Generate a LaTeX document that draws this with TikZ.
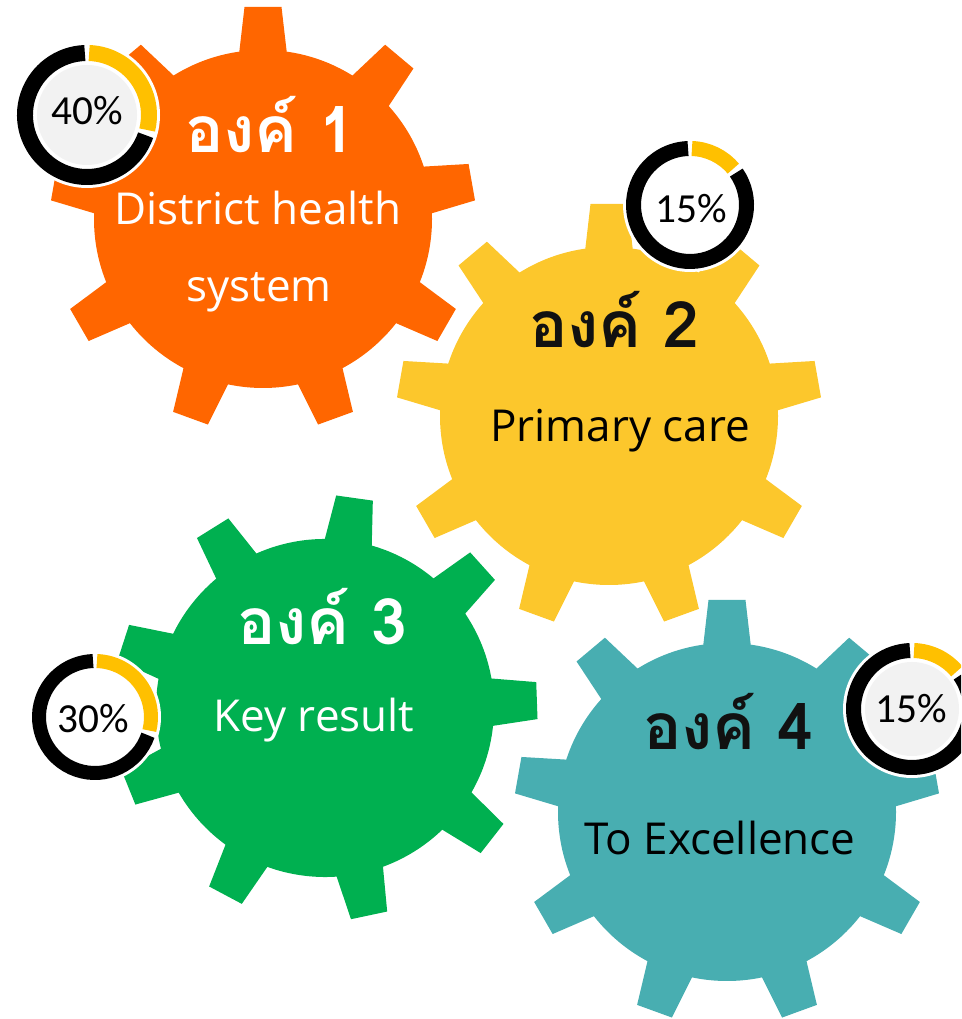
\documentclass[tikz,border=0pt]{standalone}
\usepackage{fontspec}
\setmainfont{Open Sans}
\newfontfamily\thaifont[Script=Thai]{Loma}
\newfontfamily\pctfont{Carlito}
\definecolor{gOrange}{RGB}{255,102,0}
\definecolor{gYellow}{RGB}{252,199,44}
\definecolor{gGreen}{RGB}{0,176,80}
\definecolor{gTeal}{RGB}{72,174,177}
\definecolor{ringYellow}{RGB}{255,192,0}
\definecolor{discGrey}{RGB}{242,242,242}
\definecolor{titleBlack}{RGB}{17,17,17}
\newcommand\drawgear[4]{%
  \begin{scope}[shift={(#1,#2)},rotate=#3]
    \fill[#4] (0,0) circle (169);
    \foreach \k in {0,...,8}{%
      \fill[#4,rotate=\k*40] (-25.7,150) -- (-18.5,212) -- (18.5,212) -- (25.7,150) -- cycle;}
  \end{scope}}
\newcommand\drawdonut[7]{%
  \begin{scope}[shift={(#1,#2)}]
    \fill[white] (0,0) circle ({#3+#4/2+3});
    \fill[#7] (0,0) circle ({#3-#4/2-4});
    \draw[ringYellow,line width={#4*0.75pt}] (88:#3) arc[start angle=88,end angle=#5,radius=#3];
    \draw[black,line width={#4*0.75pt}] (#6:#3) arc[start angle=#6,end angle=-268,radius=#3];
  \end{scope}}
\tikzset{
  title/.style={font=\thaifont\bfseries\fontsize{48}{52}\selectfont, anchor=base, inner sep=0pt},
  sub/.style={font=\fontsize{33}{36}\selectfont, anchor=base, inner sep=0pt},
  pct/.style={font=\pctfont\fontsize{31}{34}\selectfont, anchor=base, inner sep=0pt, text=black}
}
\begin{document}
\begin{tikzpicture}[x=0.75pt,y=0.75pt]
\useasboundingbox (0,0) rectangle (961,1019);
\clip (0,0) rectangle (961,1019);
% gears
\drawgear{263}{800}{0}{gOrange}
\drawgear{609}{603}{0}{gYellow}
\drawgear{325}{311}{-8}{gGreen}
\drawgear{727}{207}{0}{gTeal}
% donuts
\drawdonut{87}{904}{62}{16}{-14}{-19}{discGrey}
\drawdonut{690}{814}{56.5}{15}{40}{35}{white}
\drawdonut{95}{302}{56}{14}{-14}{-19}{white}
\drawdonut{912}{310}{58.5}{15}{40}{35}{discGrey}
% texts
\node[title, text=white] (t1) at (270,866) {องค์ 1};
\node[sub, text=white] (s1a) at (258,794) {District health};
\node[sub, text=white] (s1b) at (259,717) {system};
\node[title, text=titleBlack] (t2) at (614,671) {องค์ 2};
\node[sub, text=black] (s2) at (620,577) {Primary care};
\node[title, text=white] (t3) at (322,374) {องค์ 3};
\node[sub, text=white] (s3) at (314,287) {Key result};
\node[title, text=titleBlack] (t4) at (728,269) {องค์ 4};
\node[sub, text=black] (s4) at (720,164) {To Excellence};
\node[pct] (p1) at (87,894) {40\%};
\node[pct] (p2) at (691,796) {15\%};
\node[pct] (p3) at (93,286) {30\%};
\node[pct] (p4) at (911,296) {15\%};
\end{tikzpicture}
\end{document}
